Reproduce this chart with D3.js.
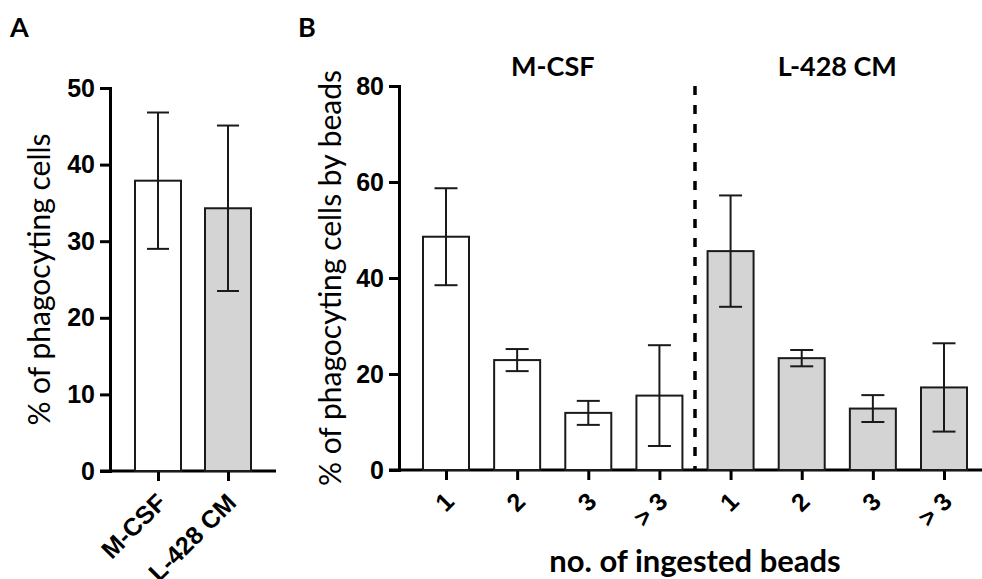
<!DOCTYPE html>
<html>
<head>
<meta charset="utf-8">
<script src="https://cdn.jsdelivr.net/npm/d3@7"></script>
<style>
  body { margin: 0; background: #fff; }
  svg { display: block; font-family: Lato, 'Open Sans', sans-serif; }
</style>
</head>
<body>
<div class="canvas"></div>
<script>
// panel A data
const aCategories = ['M-CSF', 'L-428 CM'];
const aMeans = [37.9, 34.3];
const aErrors = [8.9, 10.8];
const aTicks = [0, 10, 20, 30, 40, 50];

// panel B data
const bGroups = ['M-CSF', 'L-428 CM'];
const bBeads = ['1', '2', '3', '> 3'];
const bMcsfMeans = [48.6, 22.9, 11.9, 15.5];
const bMcsfErrors = [10.1, 2.3, 2.5, 10.5];
const bL428Means = [45.6, 23.3, 12.8, 17.2];
const bL428Errors = [11.6, 1.7, 2.8, 9.2];
const bTicks = [0, 20, 40, 60, 80];

const fills = ['#ffffff', '#d4d4d4'];
const ink = '#1a1a1a';

const svg = d3
  .select('.canvas')
  .append('svg')
  .attr('width', 982)
  .attr('height', 579);

// helper: bars + error bars
const drawBars = (g, data, x, y, barWidth, capWidth) => {
  g.selectAll('rect.bar')
    .data(data)
    .enter()
    .append('rect')
    .attr('class', 'bar')
    .attr('x', d => x(d.key) - barWidth / 2)
    .attr('y', d => y(d.mean))
    .attr('width', barWidth)
    .attr('height', d => y(0) - y(d.mean))
    .attr('fill', d => d.fill)
    .attr('stroke', ink)
    .attr('stroke-width', 2);

  const err = g.selectAll('g.err').data(data).enter().append('g').attr('class', 'err')
    .attr('stroke', ink)
    .attr('stroke-width', 2);
  err.append('line')
    .attr('x1', d => x(d.key)).attr('x2', d => x(d.key))
    .attr('y1', d => y(d.mean - d.err)).attr('y2', d => y(d.mean + d.err));
  err.append('line')
    .attr('x1', d => x(d.key) - capWidth / 2).attr('x2', d => x(d.key) + capWidth / 2)
    .attr('y1', d => y(d.mean + d.err)).attr('y2', d => y(d.mean + d.err));
  err.append('line')
    .attr('x1', d => x(d.key) - capWidth / 2).attr('x2', d => x(d.key) + capWidth / 2)
    .attr('y1', d => y(d.mean - d.err)).attr('y2', d => y(d.mean - d.err));
};

// helper: styled axes
const styleAxis = g => {
  g.selectAll('path.domain').attr('stroke', '#000').attr('stroke-width', 3).attr('stroke-linecap', 'square');
  g.selectAll('.tick line').attr('stroke', '#000').attr('stroke-width', 3);
  g.selectAll('.tick text')
    .attr('fill', '#000')
    .style('font-size', '25px')
    .style('font-weight', 'bold');
};

const rotateLabels = g => {
  g.selectAll('.tick text')
    .attr('text-anchor', 'end')
    .attr('dy', '0.35em')
    .attr('transform', 'translate(3, 27) rotate(-45)')
    .attr('y', 0)
    .attr('x', 0);
};

// ---------- panel A ----------
const aY = d3.scaleLinear().domain([0, 50]).range([471, 88]);
const aX = d3.scalePoint().domain(aCategories).range([158, 228]);
const aAxisX = 110;

const aData = aCategories.map((c, i) => ({ key: c, mean: aMeans[i], err: aErrors[i], fill: fills[i] }));

const panelA = svg.append('g');

// x baseline
panelA.append('line')
  .attr('x1', aAxisX - 10).attr('x2', 276)
  .attr('y1', aY(0)).attr('y2', aY(0))
  .attr('stroke', '#000').attr('stroke-width', 3);

const aXAxis = panelA.append('g')
  .attr('transform', `translate(0, ${aY(0)})`)
  .call(d3.axisBottom(aX).tickSize(10).tickSizeOuter(0));
aXAxis.select('.domain').remove();
styleAxis(aXAxis);
rotateLabels(aXAxis);

drawBars(panelA, aData, aX, aY, 46, 22);

const aYAxis = panelA.append('g')
  .attr('transform', `translate(${aAxisX}, 0)`)
  .call(d3.axisLeft(aY).tickValues(aTicks).tickSize(10).tickSizeOuter(0).tickPadding(5));
styleAxis(aYAxis);

panelA.append('text')
  .attr('transform', `translate(50, ${(aY(0) + aY(50)) / 2}) rotate(-90)`)
  .attr('text-anchor', 'middle')
  .style('font-size', '30px')
  .text('% of phagocyting cells');

svg.append('text')
  .attr('x', 10).attr('y', 37)
  .style('font-size', '27px').style('font-weight', 'bold')
  .text('A');

// ---------- panel B ----------
const bY = d3.scaleLinear().domain([0, 80]).range([470, 86]);
const bKeys = bGroups.flatMap(g => bBeads.map(b => g + '|' + b));
const bX = d3.scalePoint().domain(bKeys).range([446, 944]);
const bAxisX = 399;

const bData = [];
bBeads.forEach((b, i) => bData.push({ key: 'M-CSF|' + b, mean: bMcsfMeans[i], err: bMcsfErrors[i], fill: fills[0] }));
bBeads.forEach((b, i) => bData.push({ key: 'L-428 CM|' + b, mean: bL428Means[i], err: bL428Errors[i], fill: fills[1] }));

const panelB = svg.append('g');

panelB.append('line')
  .attr('x1', bAxisX - 10).attr('x2', 982)
  .attr('y1', bY(0)).attr('y2', bY(0))
  .attr('stroke', '#000').attr('stroke-width', 3);

const bXAxis = panelB.append('g')
  .attr('transform', `translate(0, ${bY(0)})`)
  .call(d3.axisBottom(bX).tickSize(10).tickSizeOuter(0).tickFormat(d => d.split('|')[1]));
bXAxis.select('.domain').remove();
styleAxis(bXAxis);
rotateLabels(bXAxis);

drawBars(panelB, bData, bX, bY, 46, 23);

// dashed separator between the groups
const sepX = (bX(bKeys[3]) + bX(bKeys[4])) / 2;
panelB.append('line')
  .attr('x1', sepX).attr('x2', sepX)
  .attr('y1', bY(80)).attr('y2', bY(0))
  .attr('stroke', '#000').attr('stroke-width', 3.5)
  .attr('stroke-dasharray', '9,10');

const bYAxis = panelB.append('g')
  .attr('transform', `translate(${bAxisX}, 0)`)
  .call(d3.axisLeft(bY).tickValues(bTicks).tickSize(10).tickSizeOuter(0).tickPadding(5));
styleAxis(bYAxis);

panelB.append('text')
  .attr('transform', `translate(341, ${(bY(0) + bY(80)) / 2}) rotate(-90)`)
  .attr('text-anchor', 'middle')
  .style('font-size', '30px')
  .text('% of phagocyting cells by beads');

// group titles
bGroups.forEach((g, i) => {
  const keys = bKeys.slice(i * 4, i * 4 + 4);
  panelB.append('text')
    .attr('x', (bX(keys[0]) + bX(keys[3])) / 2)
    .attr('y', 76)
    .attr('text-anchor', 'middle')
    .style('font-size', '27px').style('font-weight', 'bold')
    .text(g);
});

panelB.append('text')
  .attr('x', (bX(bKeys[0]) + bX(bKeys[7])) / 2)
  .attr('y', 572)
  .attr('text-anchor', 'middle')
  .style('font-size', '31px').style('font-weight', 'bold')
  .text('no. of ingested beads');

svg.append('text')
  .attr('x', 298).attr('y', 37)
  .style('font-size', '27px').style('font-weight', 'bold')
  .text('B');
</script>
</body>
</html>
